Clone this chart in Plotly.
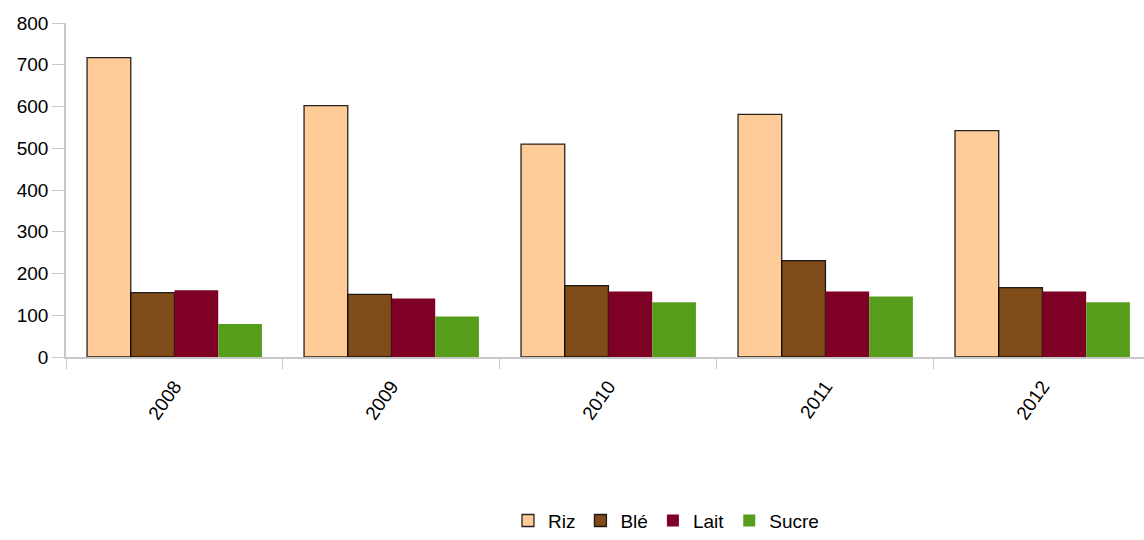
import plotly.graph_objects as go

# Annual figures per commodity
years = ["2008", "2009", "2010", "2011", "2012"]
riz = [717, 602, 510, 581, 542]
ble = [154, 150, 171, 231, 166]
lait = [160, 140, 157, 157, 157]
sucre = [79, 97, 131, 145, 131]

series = [
    ("Riz", riz, "#FFCC99", "rgba(0,0,0,0.85)", 1.3),
    ("Blé", ble, "#7F4C1A", "rgba(0,0,0,0.85)", 1.3),
    ("Lait", lait, "#7F0025", "#7F0025", 0),
    ("Sucre", sucre, "#579D1C", "#579D1C", 0),
]

fig = go.Figure()
for name, vals, color, line_color, line_w in series:
    fig.add_trace(go.Bar(
        name=name, x=years, y=vals,
        marker=dict(color=color, line=dict(color=line_color, width=line_w)),
    ))

fig.update_layout(
    width=1144, height=540,
    margin=dict(l=66, r=0, t=23, b=183),
    paper_bgcolor="white", plot_bgcolor="white",
    font=dict(family="Liberation Sans, Arial, sans-serif", size=19, color="black"),
    barmode="group", bargap=0.194, bargroupgap=0,
    showlegend=True,
    legend=dict(
        orientation="h", x=0.41, xanchor="left", y=-0.49, yanchor="middle",
        font=dict(size=19), itemwidth=30, traceorder="normal",
        bgcolor="rgba(0,0,0,0)",
    ),
    xaxis=dict(
        type="category", range=[-0.5, 4.468], automargin=False,
        showline=True, linecolor="#C8C8C8", linewidth=1.5,
        ticks="outside", tickson="boundaries", ticklen=10, tickcolor="#C8C8C8",
        tickangle=-55, ticklabelstandoff=9, showgrid=False, zeroline=False,
    ),
    yaxis=dict(
        range=[0, 800], dtick=100, automargin=False,
        showline=True, linecolor="#C8C8C8", linewidth=1.5,
        ticks="outside", ticklen=12, tickcolor="#C8C8C8",
        showgrid=False, zeroline=False,
    ),
)

fig.write_html("out.html")
